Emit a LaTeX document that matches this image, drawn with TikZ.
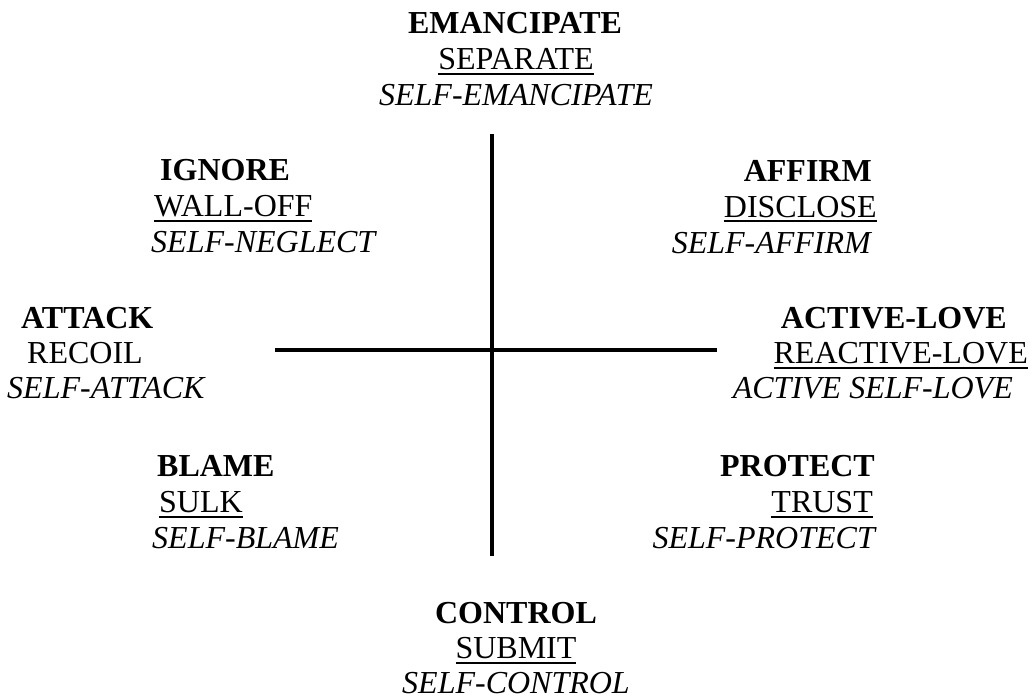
\documentclass[tikz,border=0pt]{standalone}
\usepackage{fontspec}
\setmainfont{Liberation Serif}
\newcommand\ulin[1]{\setbox0\hbox{#1}\rlap{\rule[-5.5pt]{\wd0}{2pt}}\box0}
\tikzset{
  lbl/.style={anchor=base, inner sep=0pt, font=\fontsize{32}{36}\selectfont},
  hd/.style={lbl, font=\fontsize{32}{36}\selectfont\bfseries},
  it/.style={lbl, font=\fontsize{32}{36}\selectfont\itshape},
  axis/.style={line width=4pt}
}
\begin{document}
\begin{tikzpicture}[x=1pt,y=-1pt]
\useasboundingbox (0,0) rectangle (1034,698);
% axes
\coordinate (vt) at (492,134);
\coordinate (vb) at (492,556);
\coordinate (hl) at (275,350);
\coordinate (hr) at (717,350);
\draw[axis] (vt) -- (vb);
\draw[axis] (hl) -- (hr);
% top
\node[hd] (emh) at (515,34) {EMANCIPATE};
\node[lbl] (emm) at (516,70) {\ulin{SEPARATE}};
\node[it] (eml) at (516,106) {SELF-EMANCIPATE};
% upper left
\node[hd, anchor=base west] (igh) at (160,181) {IGNORE};
\node[lbl, anchor=base west] (igm) at (154,216) {\ulin{WALL-OFF}};
\node[it, anchor=base west] (igl) at (151,252) {SELF-NEGLECT};
% upper right
\node[hd, anchor=base east] (afh) at (872,182) {AFFIRM};
\node[lbl, anchor=base east] (afm) at (877,217) {\ulin{DISCLOSE}};
\node[it, anchor=base east] (afl) at (871,253) {SELF-AFFIRM};
% left
\node[hd, anchor=base west] (ath) at (21,328) {ATTACK};
\node[lbl, anchor=base west] (atm) at (27,363) {RECOIL};
\node[it, anchor=base west] (atl) at (7,398) {SELF-ATTACK};
% right
\node[hd, anchor=base east] (alh) at (1007,328) {ACTIVE-LOVE};
\node[lbl, anchor=base east] (alm) at (1028,363) {\ulin{REACTIVE-LOVE}};
\node[it, anchor=base east] (all) at (1013,398) {ACTIVE SELF-LOVE};
% lower left
\node[hd, anchor=base west] (blh) at (157,476) {BLAME};
\node[lbl, anchor=base west] (blm) at (159,512) {\ulin{SULK}};
\node[it, anchor=base west] (bll) at (152,548) {SELF-BLAME};
% lower right
\node[hd, anchor=base east] (prh) at (875,476) {PROTECT};
\node[lbl, anchor=base east] (prm) at (873,512) {\ulin{TRUST}};
\node[it, anchor=base east] (prl) at (875,548) {SELF-PROTECT};
% bottom
\node[hd] (coh) at (516,623) {CONTROL};
\node[lbl] (com) at (516,658) {\ulin{SUBMIT}};
\node[it] (col) at (516,693) {SELF-CONTROL};
\end{tikzpicture}
\end{document}
